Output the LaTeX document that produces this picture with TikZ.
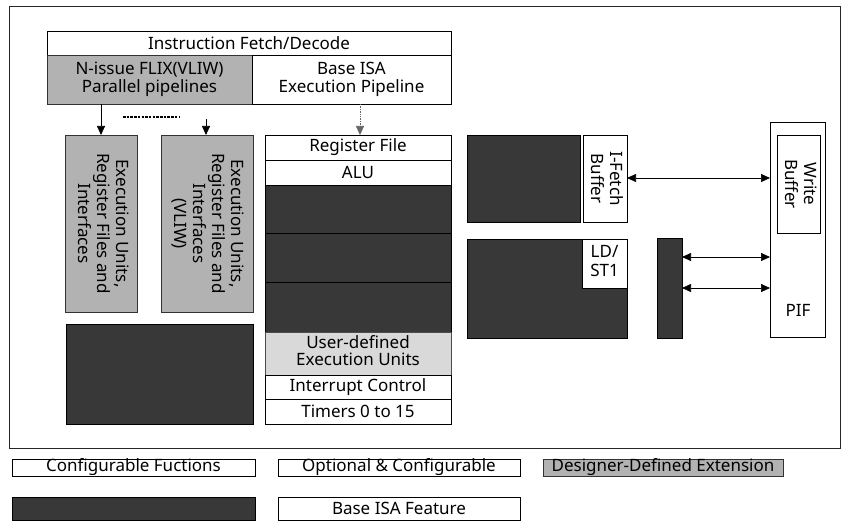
\documentclass[tikz,border=0pt]{standalone}
\usepackage{fontspec}
\setmainfont{Noto Sans}
\usepackage{graphicx}
\usetikzlibrary{arrows.meta}
\newcommand\bx[7]{\node[#2, minimum width={#5pt-#3pt}, minimum height={#6pt-#4pt}] (#1) at ({(#3+#5)/2},{(#4+#6)/2}) {#7};}
\newcommand\rt[1]{\rotatebox{-90}{\begin{tabular}{@{}c@{}}#1\end{tabular}}}
\begin{document}
\begin{tikzpicture}[x=1pt,y=-1pt,
  every node/.style={font=\fontsize{17}{19}\selectfont, inner sep=0pt, outer sep=0pt},
  plain/.style={draw=black, line width=0.8pt, fill=white},
  designer/.style={draw=black!80, line width=0.8pt, fill=black!30},
  userdef/.style={draw=black!70, line width=0.8pt, fill=black!15},
  optional/.style={draw=black, line width=0.8pt, fill=black!78},
  frame/.style={draw=black!85, line width=0.9pt},
  arr/.style={line width=0.7pt, -{Triangle[length=9pt,width=8pt]}},
  darr/.style={line width=0.7pt, {Triangle[length=9pt,width=8pt]}-{Triangle[length=9pt,width=8pt]}}]
\useasboundingbox (0,0) rectangle (846,524);
\fill[white] (0,0) rectangle (846,524);
% outer frame
\bx{outer}{frame}{9}{6}{840}{448}{}
% top
\bx{ifd}{plain}{47}{31}{451}{55}{Instruction Fetch/Decode}
\bx{flix}{designer}{47}{55}{252}{104}{\begin{tabular}{@{}c@{}}N-issue FLIX(VLIW)\\[-1pt]Parallel pipelines\end{tabular}}
\bx{base}{plain}{252}{55}{451}{104}{\begin{tabular}{@{}c@{}}Base ISA\\[-1pt]Execution Pipeline\end{tabular}}
% execution units
\bx{exA}{designer}{65}{135}{137}{312}{\rt{Execution Units,\\Register Files and\\Interfaces}}
\bx{exB}{designer}{161}{135}{253}{312}{\rt{Execution Units,\\Register Files and\\Interfaces\\(VLIW)}}
\bx{optL}{optional}{66}{324}{253}{424}{}
% base column
\bx{rf}{plain}{265}{135}{451}{160}{Register File}
\bx{alu}{plain}{265}{160}{451}{185}{ALU}
\bx{optA}{optional}{265}{185}{451}{233}{}
\bx{optB}{optional}{265}{233}{451}{282}{}
\bx{optC}{optional}{265}{282}{451}{332}{}
\bx{ude}{userdef}{265}{332}{451}{375}{\begin{tabular}{@{}c@{}}User-defined\\[-2pt]Execution Units\end{tabular}}
\bx{irq}{plain}{265}{375}{451}{399}{Interrupt Control}
\bx{tim}{plain}{265}{399}{451}{424}{Timers 0 to 15}
% right side
\bx{imem}{optional}{467}{135}{580}{222}{}
\bx{ifb}{plain}{583}{135}{627}{222}{\rt{I-Fetch\\Buffer}}
\bx{dmem}{optional}{467}{239}{627}{338}{}
\bx{ldst}{plain}{582}{239}{627}{288}{\begin{tabular}{@{}c@{}}LD/\\ST1\end{tabular}}
\bx{bar}{optional}{657}{238}{682}{338}{}
\bx{pif}{plain}{770}{122}{825}{337}{}
\bx{wb}{plain}{777}{135}{820}{233}{\rt{Write\\Buffer}}
\node (piflbl) at (798,310) {PIF};
% arrows
\draw[arr] (flix.south -| exA.north) -- (exA.north);
\coordinate (bstart) at (206,119);
\draw[arr] (bstart) -- (bstart |- exB.north);
\coordinate (dA) at (123,117);
\coordinate (dB) at (180,117);
\draw[line width=1.2pt, dash pattern=on 2.5pt off 1.2pt] (dA) -- (dB);
\draw[arr, densely dotted, draw=black!60] (base.south -| 360,0) -- (rf.north -| 360,0);
\draw[darr] (ifb.east |- 0,178) -- (pif.west |- 0,178);
\draw[darr] (bar.east |- 0,257) -- (pif.west |- 0,257);
\draw[darr] (bar.east |- 0,288) -- (pif.west |- 0,288);
% legend
\bx{lgA}{plain}{12}{460}{255}{475}{Configurable Fuctions}
\bx{lgB}{plain}{278}{460}{520}{475}{Optional \& Configurable}
\bx{lgC}{designer}{543}{460}{783}{475}{Designer-Defined Extension}
\bx{lgD}{optional}{12}{497}{255}{520}{}
\bx{lgE}{plain}{278}{497}{520}{520}{Base ISA Feature}
\end{tikzpicture}
\end{document}
